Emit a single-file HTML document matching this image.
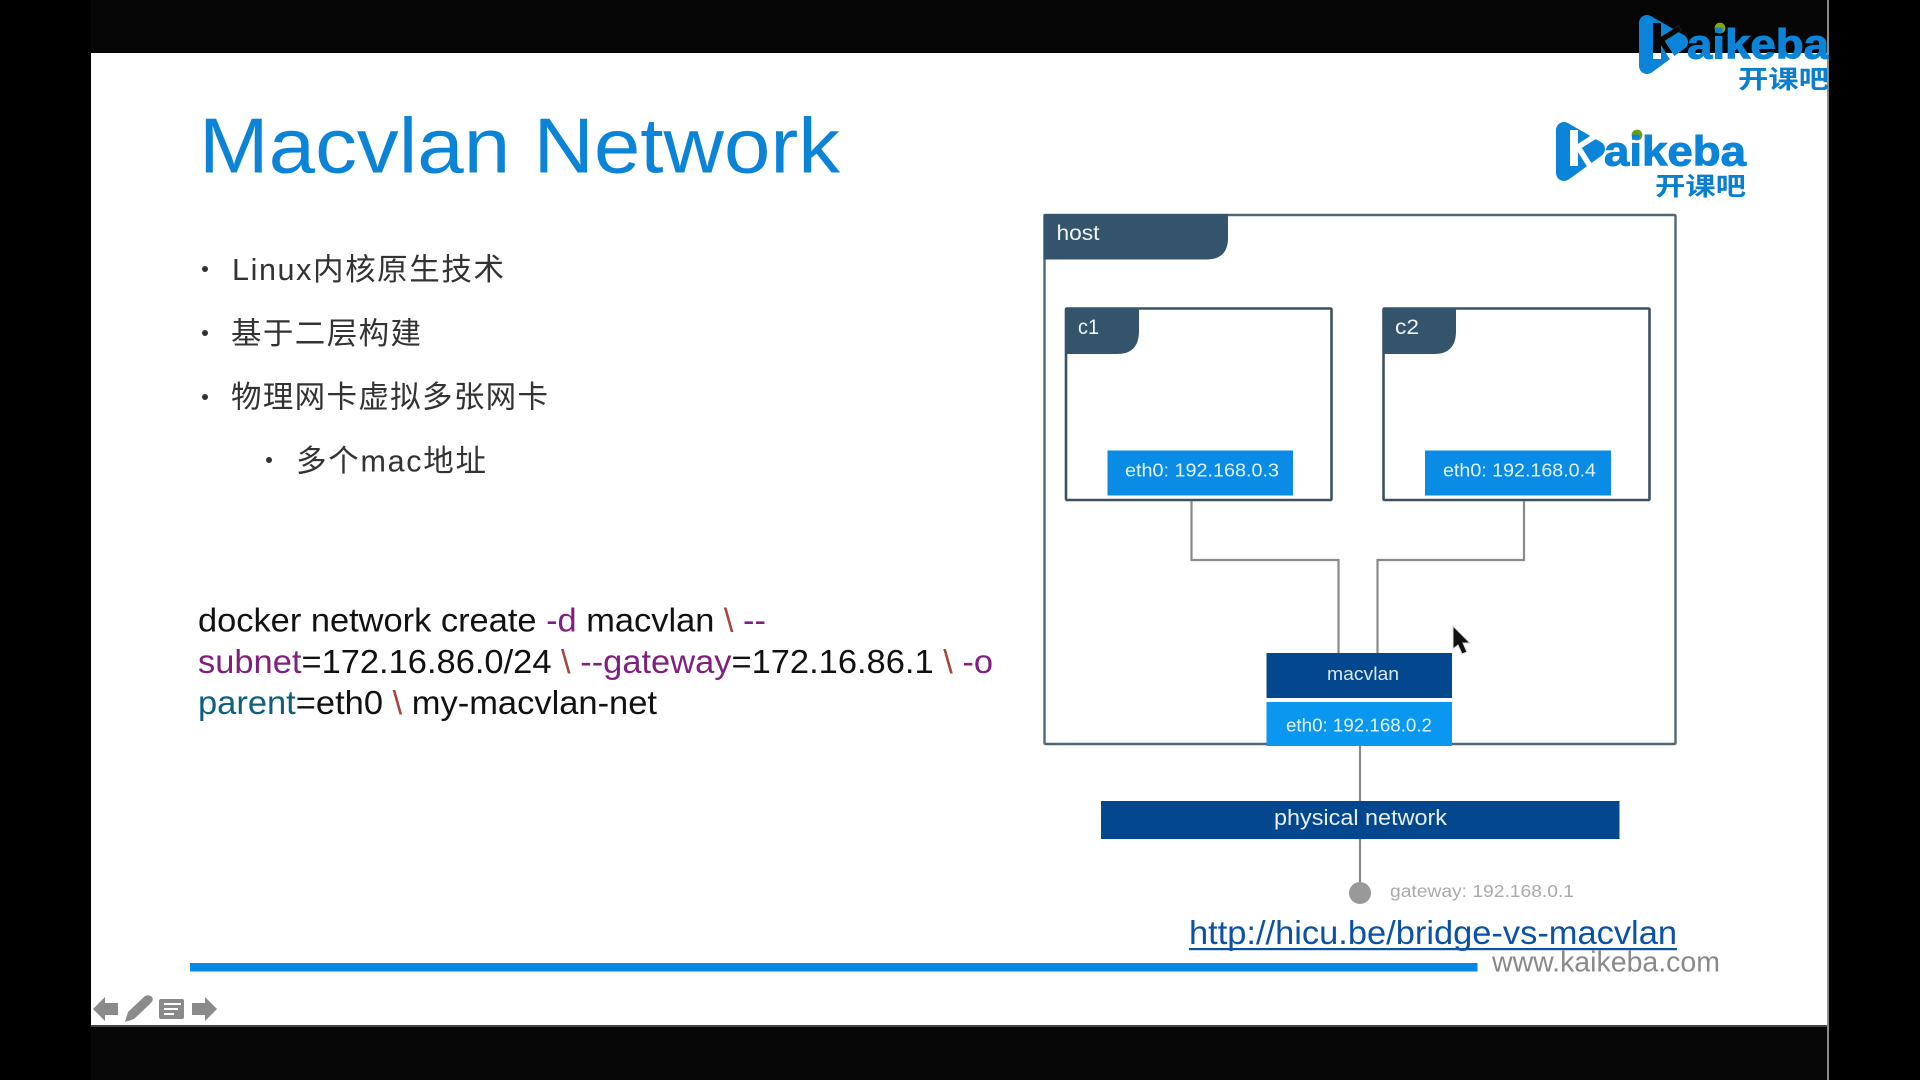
<!DOCTYPE html>
<html><head><meta charset="utf-8"><title>Macvlan Network</title>
<style>
html,body{margin:0;padding:0;background:#000;width:1920px;height:1080px;overflow:hidden}
svg{display:block}
text{font-family:"Liberation Sans","Noto Sans CJK SC",sans-serif}
</style></head><body>
<svg width="1920" height="1080" viewBox="0 0 1920 1080" xmlns="http://www.w3.org/2000/svg">
<defs><clipPath id="topclip"><rect x="1600" y="0" width="229" height="53"/></clipPath>
<clipPath id="rclip"><rect x="1600" y="0" width="229" height="120"/></clipPath></defs>
<rect width="1920" height="1080" fill="#000"/>
<rect x="91" y="0" width="1736" height="53" fill="#060606"/>
<rect x="91" y="1026" width="1736" height="54" fill="#070707"/>
<rect x="91" y="53" width="1737" height="972" fill="#fff"/>
<rect x="91" y="1025" width="1737" height="2" fill="#444"/>
<rect x="1827" y="0" width="2" height="1080" fill="#8a8a8a"/>

<!-- Title -->
<text x="199" y="172.5" font-size="78" fill="#0b84d8" textLength="641" lengthAdjust="spacingAndGlyphs">Macvlan Network</text>

<!-- Bullets -->
<g fill="#333">
<circle cx="205" cy="269" r="3"/><circle cx="205" cy="333" r="3"/><circle cx="205" cy="397" r="3"/><circle cx="269" cy="460" r="3"/>
</g>
<g fill="#333" font-size="30.5">
<text x="232" y="280" textLength="272" lengthAdjust="spacing">Linux内核原生技术</text>
<text x="231" y="344" textLength="190" lengthAdjust="spacing">基于二层构建</text>
<text x="231" y="407.5" textLength="317" lengthAdjust="spacing">物理网卡虚拟多张网卡</text>
<text x="296" y="471.5" textLength="190" lengthAdjust="spacing">多个mac地址</text>
</g>

<!-- Command -->
<g font-size="33" fill="#111">
<text x="198" y="631.5" textLength="568" lengthAdjust="spacingAndGlyphs">docker network create <tspan fill="#7f1f7f">-d</tspan> macvlan <tspan fill="#a8483c">\</tspan> <tspan fill="#7f1f7f">--</tspan></text>
<text x="198" y="673" textLength="795" lengthAdjust="spacingAndGlyphs"><tspan fill="#7f1f7f">subnet</tspan>=172.16.86.0/24 <tspan fill="#a8483c">\</tspan> <tspan fill="#7f1f7f">--gateway</tspan>=172.16.86.1 <tspan fill="#a8483c">\</tspan> <tspan fill="#7f1f7f">-o</tspan></text>
<text x="198" y="714" textLength="459" lengthAdjust="spacingAndGlyphs"><tspan fill="#0f5f80">parent</tspan>=eth0 <tspan fill="#a8483c">\</tspan> my-macvlan-net</text>
</g>

<!-- Diagram: host -->
<rect x="1044.5" y="215" width="631" height="529" fill="#fff" stroke="#4e6678" stroke-width="2.4" rx="1"/>
<path d="M1043.5 214H1228V238Q1228 259.5 1206 259.5H1043.5Z" fill="#34546b"/>
<text x="1056.5" y="240" font-size="21" fill="#eef3f6" textLength="43" lengthAdjust="spacingAndGlyphs">host</text>

<!-- c1 -->
<rect x="1066" y="308.5" width="265.5" height="191.5" fill="#fff" stroke="#3c5164" stroke-width="2.6" rx="1"/>
<path d="M1065 308H1139V331Q1139 354 1117 354H1065Z" fill="#34546b"/>
<text x="1078" y="334" font-size="21" fill="#eef3f6" textLength="21" lengthAdjust="spacingAndGlyphs">c1</text>
<rect x="1107.5" y="450.5" width="185.5" height="45" fill="#0a8ce6"/>
<text x="1125" y="476.5" font-size="18.5" fill="#dff1fd" textLength="154" lengthAdjust="spacingAndGlyphs">eth0: 192.168.0.3</text>

<!-- c2 -->
<rect x="1383.5" y="308.5" width="266" height="191.5" fill="#fff" stroke="#3c5164" stroke-width="2.6" rx="1"/>
<path d="M1383 308H1456V331Q1456 354 1434 354H1383Z" fill="#34546b"/>
<text x="1395" y="334" font-size="21" fill="#eef3f6" textLength="24" lengthAdjust="spacingAndGlyphs">c2</text>
<rect x="1425" y="450.5" width="186" height="45" fill="#0a8ce6"/>
<text x="1443" y="476.5" font-size="18.5" fill="#dff1fd" textLength="153" lengthAdjust="spacingAndGlyphs">eth0: 192.168.0.4</text>

<!-- connectors -->
<g fill="none" stroke="#8a8a8a" stroke-width="2.2">
<path d="M1191.5 501V560H1338.5V653"/>
<path d="M1524 501V560H1377.5V653"/>
<path d="M1360 746V801"/>
<path d="M1360 839V885"/>
</g>

<!-- macvlan -->
<rect x="1266.5" y="653" width="185.5" height="45" fill="#03488f"/>
<text x="1327" y="680" font-size="18.5" fill="#dce8f3" textLength="72" lengthAdjust="spacingAndGlyphs">macvlan</text>
<rect x="1266.5" y="702" width="185.5" height="44" fill="#0a97ef"/>
<text x="1286" y="731.5" font-size="18.5" fill="#e0f3ff" textLength="146" lengthAdjust="spacingAndGlyphs">eth0: 192.168.0.2</text>

<!-- physical -->
<rect x="1101" y="801" width="518.5" height="38" fill="#03488f"/>
<text x="1274" y="825" font-size="22" fill="#e6eef6" textLength="173" lengthAdjust="spacingAndGlyphs">physical network</text>

<!-- gateway -->
<circle cx="1360" cy="893" r="11" fill="#999"/>
<text x="1390" y="897" font-size="17.5" fill="#aaa" textLength="184" lengthAdjust="spacingAndGlyphs">gateway: 192.168.0.1</text>

<!-- cursor -->
<path d="M1453 626V649L1458 645L1462 654L1467 652L1463 643H1470Z" fill="#111" stroke="#ddd" stroke-width="1"/>

<!-- Link, bar, www -->
<text x="1189" y="944" font-size="33" fill="#0a52a8" textLength="488" lengthAdjust="spacingAndGlyphs">http://hicu.be/bridge-vs-macvlan</text>
<rect x="1189" y="948" width="488" height="2.2" fill="#0a52a8"/>
<rect x="190" y="963" width="1287.5" height="8.5" fill="#0a87e2"/>
<text x="1492" y="971.5" font-size="29" fill="#8a8a8a" textLength="228" lengthAdjust="spacingAndGlyphs">www.kaikeba.com</text>

<!-- Logo 2 (slide) -->
<polygon points="1564,130 1597,149 1564,173" fill="#0a84d8" stroke="#0a84d8" stroke-width="16" stroke-linejoin="round"/>
<rect x="1570" y="130" width="8" height="36" fill="#fff"/>
<polyline points="1597,135 1578,147 1590,166" fill="none" stroke="#fff" stroke-width="5.5"/>
<circle cx="1637" cy="135" r="5.4" fill="#6f9a10"/>
<text x="1604" y="165.5" font-size="42" font-weight="bold" fill="#0a84d8" stroke="#0a84d8" stroke-width="1" textLength="142" lengthAdjust="spacingAndGlyphs">aikeba</text>
<text x="1655" y="195" font-size="25" font-weight="bold" fill="#0a7fd2" textLength="91" lengthAdjust="spacingAndGlyphs">开课吧</text>

<!-- Logo 1 (header) -->
<polygon points="1647,23 1680,42 1647,66" fill="#0a84d8" stroke="#0a84d8" stroke-width="16" stroke-linejoin="round"/>
<rect x="1653" y="23" width="8" height="36" fill="#fff"/>
<polyline points="1680,28 1661,40 1673,59" fill="none" stroke="#fff" stroke-width="5.5"/>
<g clip-path="url(#topclip)">
<rect x="1653" y="23" width="8" height="36" fill="#060606"/>
<polyline points="1680,28 1661,40 1673,59" fill="none" stroke="#060606" stroke-width="5.5"/>
</g>
<circle cx="1720" cy="28" r="5.4" fill="#7fa51a"/>
<g clip-path="url(#rclip)">
<text x="1687" y="58.5" font-size="42" font-weight="bold" fill="#0a84d8" stroke="#0a84d8" stroke-width="1" textLength="142" lengthAdjust="spacingAndGlyphs">aikeba</text>
<text x="1738" y="88" font-size="25" font-weight="bold" fill="#0a7fd2" textLength="91" lengthAdjust="spacingAndGlyphs">开课吧</text>
</g>

<!-- Nav icons -->
<g fill="#8a8a8a">
<path d="M93 1009L105 997V1003H118V1015H105V1021Z"/>
<path d="M125 1022L128 1012L145 996Q149 994 152 997Q154 1000 151 1003L134 1019Z"/>
<path d="M159 1001Q159 999 161 999H182Q184 999 184 1001V1017Q184 1019 182 1019H161Q159 1019 159 1017Z"/>
<path d="M217 1009L205 997V1003H192V1015H205V1021Z"/>
</g>
<g fill="#fff">
<rect x="164" y="1003" width="17" height="2"/><rect x="164" y="1008" width="14" height="2"/><rect x="164" y="1013" width="10" height="2"/>
</g>
</svg>
</body></html>
